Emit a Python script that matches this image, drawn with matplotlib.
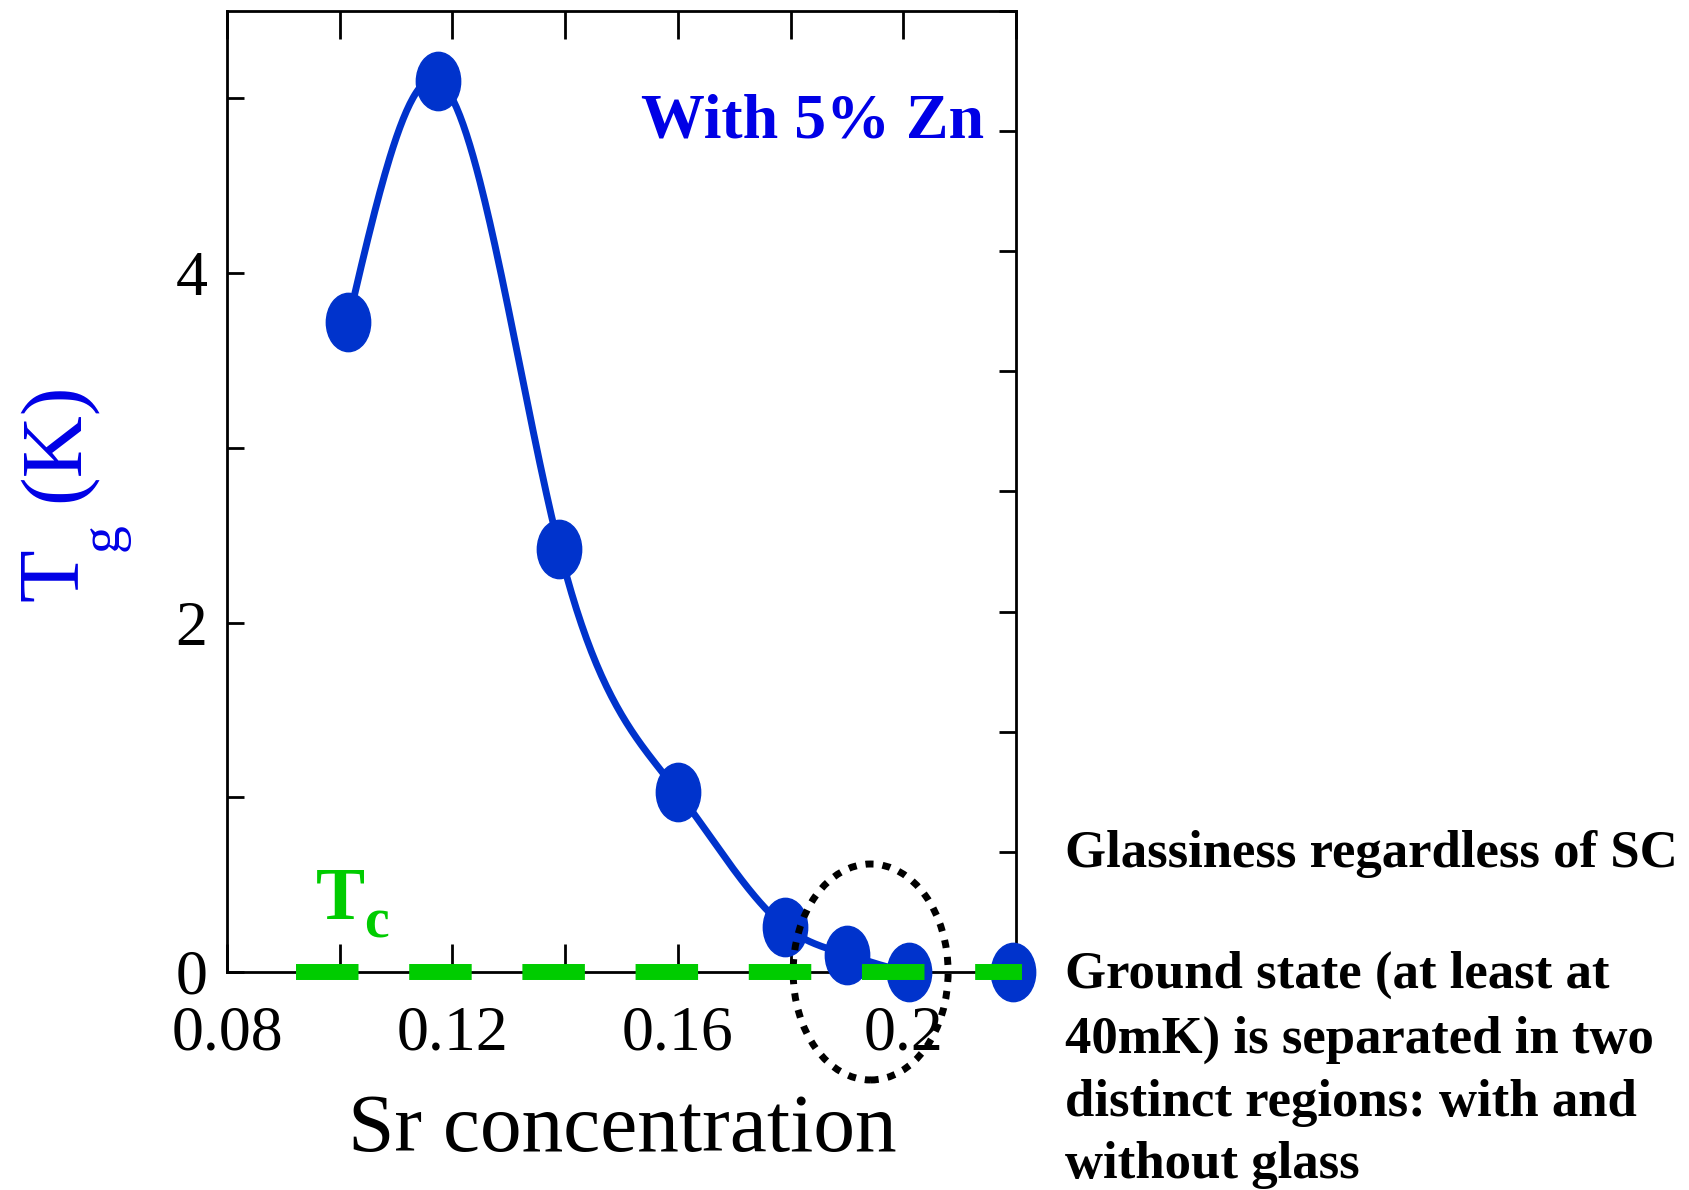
import numpy as np
import matplotlib
matplotlib.use("Agg")
import matplotlib.pyplot as plt
from matplotlib.path import Path
from matplotlib.transforms import Affine2D
from matplotlib.patches import Ellipse

plt.rcParams['font.family'] = ['Liberation Serif', 'DejaVu Serif']
plt.rcParams['lines.scale_dashes'] = False

# Tg vs Sr concentration (5% Zn)
sr = [0.1015, 0.1175, 0.139, 0.16, 0.179, 0.190, 0.201, 0.2195]
tg = [3.72, 5.10, 2.42, 1.03, 0.26, 0.10, 0.0, 0.0]

# Tc level drawn as dashed line
tc_x = [0.0922, 0.2211]
tc_y = [0.0, 0.0]

xtick_major = [0.08, 0.12, 0.16, 0.20]
xtick_labels = ['0.08', '0.12', '0.16', '0.2']
xtick_minor = [0.10, 0.14, 0.18, 0.22]
ytick_major = [0, 2, 4]
ytick_minor = [1, 3, 5]

notes = ['Glassiness regardless of SC',
         'Ground state (at least at',
         '40mK) is separated in two',
         'distinct regions: with and',
         'without glass']

BLUE = '#0033cc'
TEXT_BLUE = '#0000e6'
GREEN = '#00cc00'

W, H = 1690, 1190


def natural_spline(x, y, xs):
    x = np.asarray(x, float)
    y = np.asarray(y, float)
    n = len(x)
    h = np.diff(x)
    A = np.zeros((n, n))
    b = np.zeros(n)
    A[0, 0] = 1
    A[-1, -1] = 1
    for i in range(1, n - 1):
        A[i, i - 1] = h[i - 1]
        A[i, i] = 2 * (h[i - 1] + h[i])
        A[i, i + 1] = h[i]
        b[i] = 6 * ((y[i + 1] - y[i]) / h[i] - (y[i] - y[i - 1]) / h[i - 1])
    m = np.linalg.solve(A, b)
    idx = np.clip(np.searchsorted(x, xs) - 1, 0, n - 2)
    x0, x1 = x[idx], x[idx + 1]
    hh = x1 - x0
    t0 = x1 - xs
    t1 = xs - x0
    return (m[idx] * t0 ** 3 / (6 * hh) + m[idx + 1] * t1 ** 3 / (6 * hh)
            + (y[idx] / hh - m[idx] * hh / 6) * t0
            + (y[idx + 1] / hh - m[idx + 1] * hh / 6) * t1)


def ftext(px, py, s, **kw):
    # place text by pixel position from the top-left corner
    return fig.text(px / W, 1 - py / H, s, **kw)


fig = plt.figure(figsize=(16.9, 11.9), dpi=100)
ax = fig.add_axes([0.1343, 0.1832, 0.4669, 0.8076])

# right-hand axis only carries ticks; kept underneath the data axes
ax2 = ax.twinx()
ax2.set_ylim(0, 8)
ax2.set_yticks(range(9))
ax2.tick_params(axis='y', direction='in', length=12, width=2, labelright=False)
for side in ['top', 'bottom', 'left']:
    ax2.spines[side].set_visible(False)
ax2.spines['right'].set_linewidth(2)
ax2.set_zorder(ax.get_zorder() - 1)
ax.patch.set_visible(False)

xs = np.linspace(sr[0], sr[-1], 400)
ax.plot(xs, natural_spline(sr, tg, xs), color=BLUE, lw=5, zorder=2)

oval = Path.unit_circle().transformed(Affine2D().scale(0.76, 1.0))
ax.plot(sr, tg, ls='none', marker=oval, ms=42, color=BLUE, mec=BLUE,
        zorder=3, clip_on=False)

tc_line, = ax.plot(tc_x, tc_y, color=GREEN, lw=11.5, solid_capstyle='butt',
                   dash_capstyle='butt', zorder=5, clip_on=False)
tc_line.set_dashes([45, 36.5])

ring = Ellipse((0.1942, 0.0), 0.0275, 1.236, fill=False, ec='black', lw=5,
               ls=(0, (5.8, 6.5)), zorder=4, clip_on=False)
ax.add_patch(ring)

ax.set_xlim(0.08, 0.22)
ax.set_ylim(0, 5.5)
ax.set_xticks(xtick_major)
ax.set_xticklabels(xtick_labels)
ax.set_xticks(xtick_minor, minor=True)
ax.set_yticks(ytick_major)
ax.set_yticks(ytick_minor, minor=True)

ax.tick_params(axis='x', which='both', direction='in', top=True,
               length=20, width=2, labelsize=46, pad=24)
ax.tick_params(axis='y', which='both', direction='in', right=False,
               length=12, width=2, labelsize=46, pad=14)
ax.spines['right'].set_visible(False)
for s in ax.spines.values():
    s.set_linewidth(2)

# axis titles
ftext(622, 1151, 'Sr concentration', fontsize=60, ha='center', va='baseline')
rot = dict(rotation=90, rotation_mode='anchor', ha='left', va='baseline',
           color=TEXT_BLUE)
ftext(77, 601, 'T', fontsize=62, **rot)
ftext(118, 551, 'g', fontsize=40, **rot)
ftext(78, 502, '(K)', fontsize=62, **rot)

ax.text(0.2143, 4.774, 'With 5% Zn', fontsize=46, fontweight='bold',
        color=TEXT_BLUE, ha='right', va='baseline')

# Tc label
ftext(316, 919, 'T', fontsize=53, fontweight='bold', color=GREEN,
      ha='left', va='baseline')
ftext(364, 938, 'c', fontsize=40, fontweight='bold', color=GREEN,
      ha='left', va='baseline')

line_y = [854, 975, 1040, 1103, 1165]
for txt, py in zip(notes, line_y):
    ftext(1065, py, txt, fontsize=38, fontweight='bold', ha='left', va='center')

fig.savefig('out.png', dpi=100)
